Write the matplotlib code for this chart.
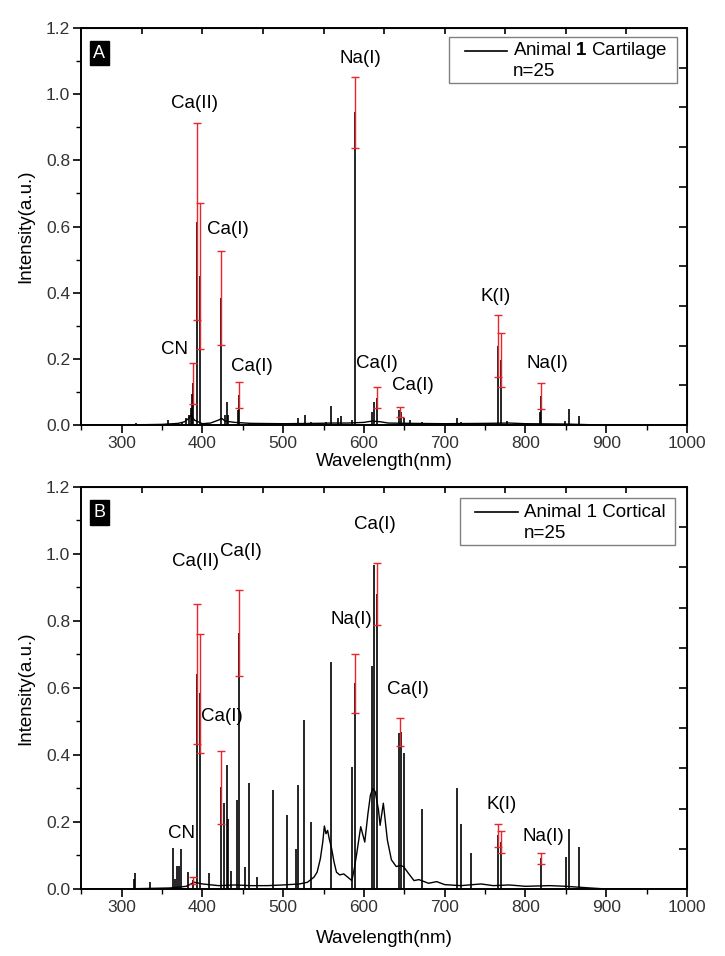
"""
LIBS spectra of animal 1: cartilage (A) and cortical bone (B), n=25 shots,
mean spectrum with red standard-deviation bars on the analysed lines.
"""
import numpy as np
import matplotlib

matplotlib.use("Agg")
import matplotlib.pyplot as plt
from matplotlib.lines import Line2D
from matplotlib.patches import Rectangle
from matplotlib.ticker import FixedLocator, FormatStrFormatter, MultipleLocator, NullFormatter

plt.rcParams["font.family"] = ["Liberation Sans", "DejaVu Sans"]
plt.rcParams["mathtext.fontset"] = "custom"
plt.rcParams["mathtext.rm"] = "Liberation Sans"
plt.rcParams["mathtext.bf"] = "Liberation Sans:bold"

# ── Panel A: cartilage ───────────────────────────────────────────────────────
CONT_A_WL = [250, 300, 350, 370, 378, 383, 386, 390, 400, 410, 420, 424, 428, 440,
             460, 500, 540, 560, 580, 600, 610, 620, 630, 660, 700, 750, 780, 800,
             850, 880, 900, 1000]
CONT_A_I = [0.0, 0.0, 0.002, 0.005, 0.01, 0.02, 0.03, 0.015, 0.004, 0.006, 0.015,
            0.02, 0.012, 0.008, 0.005, 0.004, 0.005, 0.006, 0.006, 0.008, 0.012,
            0.01, 0.006, 0.005, 0.004, 0.005, 0.006, 0.004, 0.003, 0.001, 0.0, 0.0]

PEAK_A_WL = [317.5, 330, 358, 365, 375, 380, 383, 385.5, 386.8, 388.3, 393.4, 396.8,
             422.7, 428.3, 430.3, 431.9, 443.5, 445.5, 458, 487, 518, 527, 534, 553,
             558.9, 568, 571.5, 585, 589.0, 610.3, 612.2, 616.2, 643.9, 646.3, 649.4,
             656.9, 671.8, 714.8, 720.2, 742, 766.5, 769.9, 777.5, 818.3, 819.5,
             849.5, 854.2, 866.2]
PEAK_A_I = [0.006, 0.004, 0.016, 0.006, 0.01, 0.02, 0.03, 0.05, 0.095, 0.127, 0.615,
            0.45, 0.383, 0.03, 0.07, 0.03, 0.045, 0.09, 0.006, 0.005, 0.02, 0.03,
            0.008, 0.01, 0.058, 0.02, 0.028, 0.015, 0.945, 0.04, 0.07, 0.083, 0.045,
            0.039, 0.02, 0.015, 0.008, 0.02, 0.01, 0.006, 0.24, 0.197, 0.012, 0.04,
            0.088, 0.012, 0.047, 0.027]

ERR_A_WL = [388.3, 393.4, 396.8, 422.7, 445.5, 589.0, 616.2, 645.0, 766.5, 769.9, 819.5]
ERR_A_MEAN = [0.127, 0.615, 0.45, 0.383, 0.09, 0.945, 0.083, 0.039, 0.24, 0.197, 0.088]
ERR_A_SD = [0.062, 0.298, 0.22, 0.142, 0.04, 0.108, 0.031, 0.016, 0.094, 0.082, 0.04]

LABELS_A = [("Ca(II)", 390.8, 0.973), ("Ca(I)", 432, 0.59), ("Na(I)", 595, 1.108),
            ("CN", 366, 0.227), ("Ca(I)", 461, 0.176), ("Ca(I)", 616.5, 0.186),
            ("Ca(I)", 661, 0.121), ("K(I)", 762.6, 0.388), ("Na(I)", 826.6, 0.186)]

# ── Panel B: cortical bone ───────────────────────────────────────────────────
CONT_B_WL = [250, 300, 340, 360, 380, 390, 400, 420, 440, 460, 480, 500, 520, 530,
             538, 542, 546, 549, 551, 553, 555, 557, 560, 563, 566, 570, 575, 580,
             585, 588, 591, 596, 601, 605, 608, 611, 614, 618, 620, 624, 629, 634,
             640, 645, 649, 655, 662, 668, 680, 690, 700, 720, 745, 760, 780, 800,
             830, 850, 880, 900, 1000]
CONT_B_I = [0.0, 0.0, 0.002, 0.003, 0.008, 0.02, 0.015, 0.01, 0.012, 0.01, 0.01,
            0.012, 0.015, 0.02, 0.035, 0.05, 0.09, 0.14, 0.188, 0.165, 0.175, 0.15,
            0.12, 0.08, 0.05, 0.042, 0.045, 0.035, 0.025, 0.06, 0.105, 0.186, 0.14,
            0.226, 0.28, 0.3, 0.29, 0.236, 0.19, 0.256, 0.146, 0.087, 0.067, 0.07,
            0.067, 0.047, 0.025, 0.028, 0.017, 0.022, 0.013, 0.01, 0.015, 0.01,
            0.012, 0.008, 0.01, 0.008, 0.003, 0.0, 0.0]

PEAK_B_WL = [315.5, 316.5, 335, 363.3, 366, 368.5, 370.5, 373.8, 382.5, 388.3, 393.4,
             396.8, 408.5, 422.7, 427.2, 429.9, 431.9, 435.5, 442.5, 445.5, 452.7,
             457.9, 467, 487.8, 504.2, 516.2, 518.4, 526.2, 534.9, 558.9, 585.7,
             589.0, 610.3, 612.2, 616.2, 643.9, 646.3, 649.4, 671.8, 714.8, 720.2,
             732.6, 766.5, 769.9, 819.5, 849.8, 854.2, 866.2]
PEAK_B_I = [0.03, 0.047, 0.022, 0.121, 0.03, 0.07, 0.07, 0.118, 0.052, 0.026, 0.642,
            0.584, 0.047, 0.304, 0.257, 0.37, 0.21, 0.055, 0.265, 0.764, 0.065, 0.315,
            0.035, 0.295, 0.22, 0.12, 0.31, 0.504, 0.2, 0.678, 0.365, 0.614, 0.665,
            0.967, 0.88, 0.466, 0.469, 0.405, 0.239, 0.3, 0.193, 0.106, 0.16, 0.14,
            0.091, 0.094, 0.179, 0.126]

ERR_B_WL = [388.3, 393.4, 396.8, 422.7, 445.5, 589.0, 616.2, 645.0, 766.5, 769.9, 819.5]
ERR_B_MEAN = [0.026, 0.642, 0.584, 0.304, 0.764, 0.614, 0.88, 0.469, 0.16, 0.14, 0.091]
ERR_B_SD = [0.011, 0.21, 0.177, 0.109, 0.128, 0.088, 0.093, 0.042, 0.034, 0.032, 0.015]

LABELS_B = [("Ca(II)", 391, 0.977), ("Ca(I)", 447, 1.007), ("Na(I)", 585, 0.803),
            ("Ca(I)", 613.7, 1.087), ("Ca(I)", 653.8, 0.596), ("Ca(I)", 424, 0.516),
            ("CN", 374, 0.166), ("K(I)", 770, 0.251), ("Na(I)", 822.6, 0.158)]

RED = "#e8262b"
FS = 13.5


def _style_axes(ax, xlabel_y):
    ax.set_xlim(250, 1000)
    ax.set_ylim(0, 1.2)
    ax.xaxis.set_major_locator(MultipleLocator(100))
    ax.xaxis.set_minor_locator(MultipleLocator(50))
    ax.yaxis.set_major_locator(MultipleLocator(0.2))
    ax.yaxis.set_minor_locator(MultipleLocator(0.1))
    ax.yaxis.set_major_formatter(FormatStrFormatter("%.1f"))
    ax.tick_params(which="major", direction="out", length=6, width=1.2,
                   labelsize=12.5, labelcolor="#333333", pad=2)
    ax.tick_params(which="minor", direction="out", length=3.5, width=1.0)
    for sp in ax.spines.values():
        sp.set_linewidth(1.4)

    # Origin-style opposite axes: different, unlabelled inward ticks
    top = ax.secondary_xaxis("top")
    top.xaxis.set_major_locator(FixedLocator(np.arange(325, 1000, 75)))
    top.xaxis.set_major_formatter(NullFormatter())
    top.tick_params(direction="in", length=4, width=1.2)
    right = ax.secondary_yaxis("right")
    right.yaxis.set_major_locator(FixedLocator(np.arange(0.12, 1.19, 0.12)))
    right.yaxis.set_major_formatter(NullFormatter())
    right.tick_params(direction="in", length=6, width=1.2)

    ax.set_xlabel("Wavelength(nm)", fontsize=FS)
    ax.set_ylabel("Intensity(a.u.)", fontsize=FS)
    ax.xaxis.set_label_coords(0.5, xlabel_y)
    ax.xaxis.label.set_va("top")
    ax.yaxis.set_label_coords(-0.077, 0.5)


def _draw_panel(ax, cont_wl, cont_i, peak_wl, peak_i, err_wl, err_mean, err_sd,
                labels, letter, legend_text, legend_box, xlabel_y):
    ax.plot(cont_wl, cont_i, color="black", lw=1.0, zorder=2)
    ax.vlines(peak_wl, 0, peak_i, color="black", lw=1.2, zorder=2)
    ax.errorbar(err_wl, err_mean, yerr=err_sd, fmt="none", ecolor=RED,
                elinewidth=1.0, capsize=3, capthick=1.0, zorder=3)

    for text, x, y in labels:
        ax.text(x, y, text, ha="center", va="center", fontsize=FS, zorder=4)

    ax.text(272.5, 1.124, letter, ha="center", va="center", color="white",
            fontsize=13, zorder=5,
            bbox=dict(boxstyle="square,pad=0.2", fc="black", ec="black"))

    # legend box drawn by hand so "n=25" sits under the series name
    x0, y0, x1, y1, lx0, lx1, tx = legend_box
    ax.add_patch(Rectangle((x0, y0), x1 - x0, y1 - y0, transform=ax.transAxes,
                           fill=False, ec="#808080", lw=1.0, zorder=5))
    ly = y1 - 0.3 * (y1 - y0)
    ax.add_line(Line2D([lx0, lx1], [ly, ly], transform=ax.transAxes,
                       color="black", lw=1.2, zorder=5))
    ax.text(tx, ly, legend_text, transform=ax.transAxes, va="center",
            fontsize=FS, zorder=5)
    ax.text(tx, y0 + 0.24 * (y1 - y0), "n=25", transform=ax.transAxes,
            va="center", fontsize=FS, zorder=5)

    _style_axes(ax, xlabel_y)


def main() -> None:
    fig = plt.figure(figsize=(7.25, 9.56), dpi=100)
    fig.patch.set_facecolor("white")
    ax_a = fig.add_axes([0.1121, 0.5554, 0.8355, 0.4153])
    ax_b = fig.add_axes([0.1121, 0.0701, 0.8355, 0.4205])

    _draw_panel(ax_a, CONT_A_WL, CONT_A_I, PEAK_A_WL, PEAK_A_I,
                ERR_A_WL, ERR_A_MEAN, ERR_A_SD, LABELS_A, "A",
                r"Animal $\mathbf{1}$ Cartilage",
                (0.6076, 0.8622, 0.9835, 0.9766, 0.6335, 0.7028, 0.7122), -0.07)
    _draw_panel(ax_b, CONT_B_WL, CONT_B_I, PEAK_B_WL, PEAK_B_I,
                ERR_B_WL, ERR_B_MEAN, ERR_B_SD, LABELS_B, "B",
                "Animal 1 Cortical",
                (0.6247, 0.8557, 0.9807, 0.9719, 0.6505, 0.7209, 0.7304), -0.102)

    fig.savefig("out.png", dpi=100, facecolor="white")


if __name__ == "__main__":
    main()
